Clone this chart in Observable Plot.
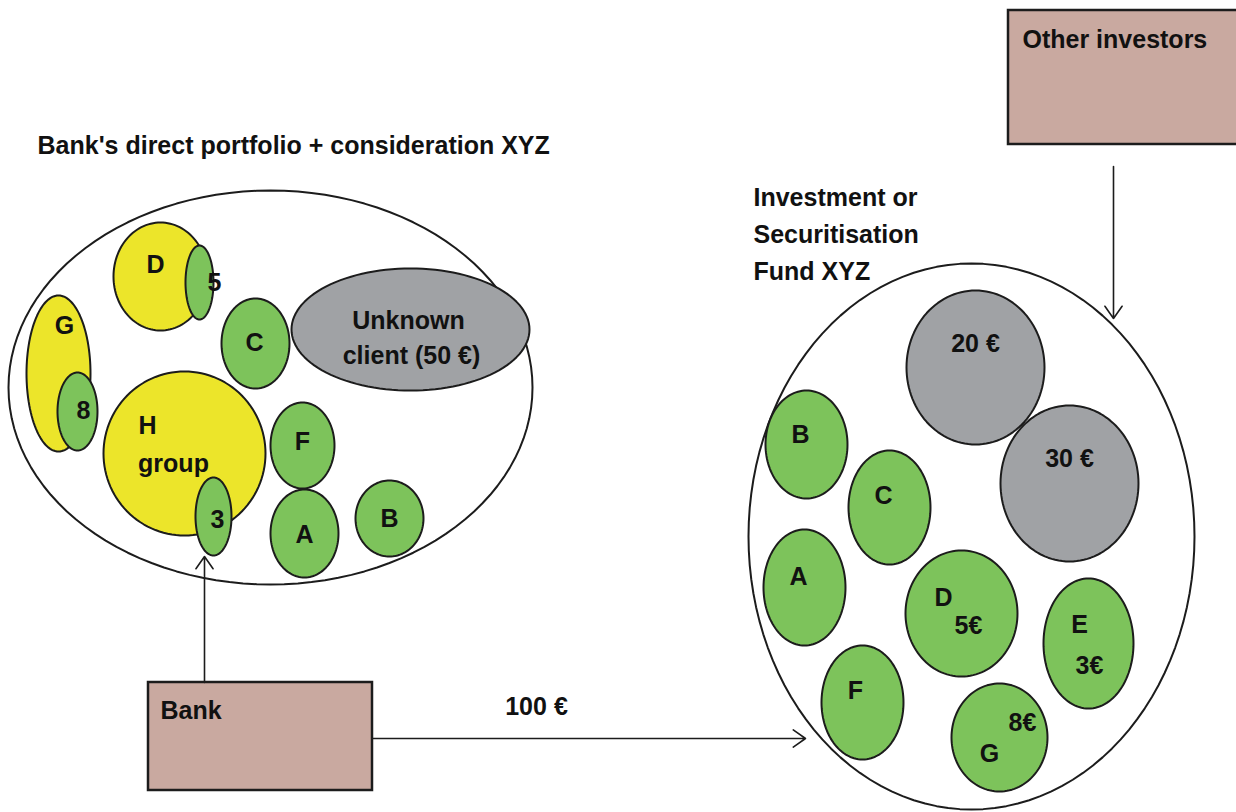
<!DOCTYPE html>
<html>
<head>
<meta charset="utf-8">
<script src="https://cdn.jsdelivr.net/npm/d3@7"></script>
<script src="https://cdn.jsdelivr.net/npm/@observablehq/plot@0.6"></script>
<style>
  html, body { margin: 0; padding: 0; background: #fff; }
</style>
</head>
<body>
<div id="chart"></div>
<script>
const W = 1236, H = 812;

// Containers (big white ellipses)
const containers = [
  {id: "portfolio", cx: 270, cy: 387, rx: 262, ry: 197},
  {id: "fund", cx: 971, cy: 536, rx: 223, ry: 273}
];
// Group ellipses (yellow)
const groups = [
  {id: "D", cx: 160, cy: 276, rx: 47, ry: 54},
  {id: "G", cx: 58, cy: 373, rx: 32, ry: 78},
  {id: "H", cx: 184, cy: 453, rx: 81, ry: 82}
];
// Gray exposures
const grays = [
  {id: "unknown", cx: 410, cy: 329, rx: 119, ry: 61},
  {id: "20", cx: 975, cy: 367, rx: 69, ry: 77},
  {id: "30", cx: 1069, cy: 483, rx: 69, ry: 78}
];
// Green clients
const greens = [
  {id: "C", cx: 255, cy: 343, rx: 34, ry: 45},
  {id: "F", cx: 302, cy: 445, rx: 32, ry: 43},
  {id: "A", cx: 304, cy: 533, rx: 34, ry: 44},
  {id: "B", cx: 389, cy: 518, rx: 34, ry: 38},
  {id: "fB", cx: 806, cy: 444, rx: 41, ry: 54},
  {id: "fC", cx: 889, cy: 507, rx: 41, ry: 57},
  {id: "fA", cx: 804, cy: 587, rx: 41, ry: 58},
  {id: "fD", cx: 961, cy: 613, rx: 56, ry: 63},
  {id: "fE", cx: 1088, cy: 643, rx: 45, ry: 65},
  {id: "fF", cx: 862, cy: 702, rx: 41, ry: 57},
  {id: "fG", cx: 999, cy: 737, rx: 48, ry: 54}
];
// Green sub-exposures inside groups
const subs = [
  {id: "5", cx: 199, cy: 282, rx: 14, ry: 37},
  {id: "8", cx: 77, cy: 411, rx: 20, ry: 39},
  {id: "3", cx: 213, cy: 516, rx: 18, ry: 39}
];
// Boxes
const boxes = [
  {id: "Bank", x1: 148, x2: 372, y1: 682, y2: 790},
  {id: "Other investors", x1: 1008, x2: 1240, y1: 10, y2: 144}
];
// Arrows
const arrows = [
  {x1: 204, y1: 682, x2: 204, y2: 556},
  {x1: 372, y1: 738, x2: 805, y2: 738},
  {x1: 1113, y1: 166, x2: 1113, y2: 318}
];
// Labels
const labels = [
  {text: "Bank's direct portfolio + consideration XYZ", x: 37, y: 145, anchor: "start"},
  {text: "Investment or", x: 753, y: 197, anchor: "start"},
  {text: "Securitisation", x: 753, y: 234, anchor: "start"},
  {text: "Fund XYZ", x: 753, y: 271, anchor: "start"},
  {text: "Other investors", x: 1022, y: 39, anchor: "start"},
  {text: "Bank", x: 160, y: 710, anchor: "start"},
  {text: "100 €", x: 536, y: 706, anchor: "middle"},
  {text: "D", x: 155, y: 264, anchor: "middle"},
  {text: "5", x: 214, y: 282, anchor: "middle"},
  {text: "G", x: 64, y: 325, anchor: "middle"},
  {text: "8", x: 83, y: 410, anchor: "middle"},
  {text: "C", x: 254, y: 342, anchor: "middle"},
  {text: "Unknown", x: 408, y: 320, anchor: "middle"},
  {text: "client (50 €)", x: 411, y: 355, anchor: "middle"},
  {text: "H", x: 147, y: 425, anchor: "middle"},
  {text: "group", x: 173, y: 463, anchor: "middle"},
  {text: "3", x: 217, y: 519, anchor: "middle"},
  {text: "F", x: 302, y: 441, anchor: "middle"},
  {text: "A", x: 304, y: 534, anchor: "middle"},
  {text: "B", x: 389, y: 518, anchor: "middle"},
  {text: "20 €", x: 975, y: 343, anchor: "middle"},
  {text: "30 €", x: 1069, y: 458, anchor: "middle"},
  {text: "B", x: 800, y: 434, anchor: "middle"},
  {text: "C", x: 883, y: 495, anchor: "middle"},
  {text: "A", x: 798, y: 576, anchor: "middle"},
  {text: "D", x: 943, y: 597, anchor: "middle"},
  {text: "5€", x: 968, y: 625, anchor: "middle"},
  {text: "E", x: 1079, y: 624, anchor: "middle"},
  {text: "3€", x: 1089, y: 665, anchor: "middle"},
  {text: "F", x: 855, y: 690, anchor: "middle"},
  {text: "G", x: 989, y: 753, anchor: "middle"},
  {text: "8€", x: 1022, y: 722, anchor: "middle"}
];

const FONT = "'Liberation Sans', Arial, sans-serif";
const STROKE = "#1c1c1c";

function outline(shapes) {
  const n = 120;
  return shapes.flatMap(s => d3.range(n).map(i => {
    const t = (i / n) * 2 * Math.PI;
    return {id: s.id, x: s.cx + s.rx * Math.cos(t), y: s.cy + s.ry * Math.sin(t)};
  }));
}
function ellipses(shapes, fill, sw = 2) {
  return Plot.line(outline(shapes), {
    x: "x", y: "y", z: "id", fill, stroke: STROKE, strokeWidth: sw, curve: "linear-closed"
  });
}

const textMarks = ["start", "middle"].map(a =>
  Plot.text(labels.filter(d => d.anchor === a), {
    x: "x", y: "y", text: "text", textAnchor: a, fontSize: 25,
    fontWeight: "bold", fontFamily: FONT, fill: "#111", lineAnchor: "middle"
  })
);

const chart = Plot.plot({
  width: W, height: H,
  marginTop: 0, marginRight: 0, marginBottom: 0, marginLeft: 0,
  x: {domain: [0, W], range: [0, W], axis: null},
  y: {domain: [0, H], range: [0, H], axis: null},
  style: {background: "#fff", overflow: "hidden"},
  marks: [
    Plot.rect(boxes, {x1: "x1", x2: "x2", y1: "y1", y2: "y2", fill: "#c9a9a0", stroke: STROKE, strokeWidth: 2.5}),
    ellipses(containers, "#fff", 2),
    ellipses(groups, "#ece52a"),
    ellipses(grays, "#a0a2a5"),
    ellipses(greens, "#7dc35b"),
    ellipses(subs, "#7dc35b"),
    Plot.arrow(arrows, {x1: "x1", y1: "y1", x2: "x2", y2: "y2", stroke: STROKE, strokeWidth: 1.6, headLength: 14, headAngle: 70, bend: 0}),
    ...textMarks
  ]
});

document.getElementById("chart").appendChild(chart);
</script>
</body>
</html>
